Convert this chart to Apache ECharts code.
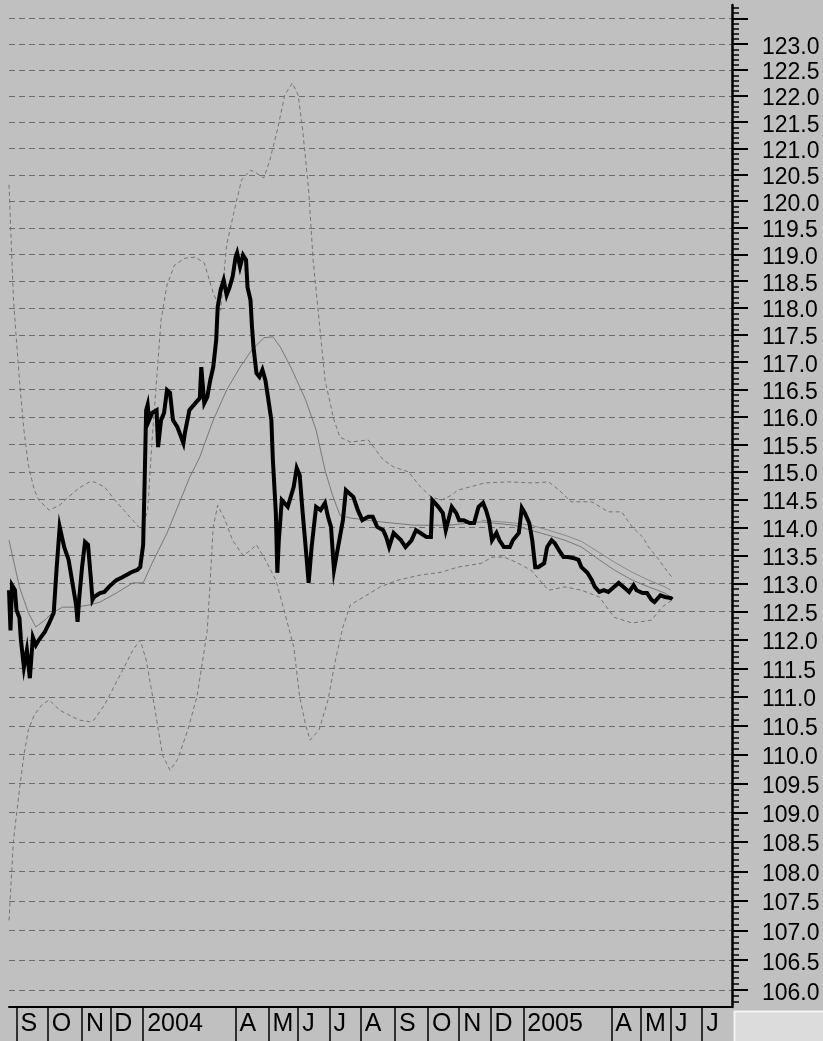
<!DOCTYPE html>
<html><head><meta charset="utf-8">
<script src="https://cdn.jsdelivr.net/npm/echarts@6/dist/echarts.min.js"></script>
<style>html,body{margin:0;padding:0;background:#c0c0c0;}#c{width:823px;height:1041px;}</style>
</head><body><div id="c"></div>
<script>
// ---- data (trading-day index, value) ----
const monthStarts = [5, 26, 49, 68, 90, 152, 174, 194, 215, 236, 259, 281, 302, 323, 345, 404, 424, 444, 465];
const monthLabels = ['S','O','N','D','2004','A','M','J','J','A','S','O','N','D','2005','A','M','J','J'];
const yLabels = [106.0,106.5,107.0,107.5,108.0,108.5,109.0,109.5,110.0,110.5,111.0,111.5,112.0,112.5,113.0,113.5,114.0,114.5,115.0,115.5,116.0,116.5,117.0,117.5,118.0,118.5,119.0,119.5,120.0,120.5,121.0,121.5,122.0,122.5,123.0];
const yMajorTicks = yLabels.concat([123.5]);

const price = [[0,112.88],[1,112.17],[2,112.97],[4,112.88],[5,112.53],[7,112.39],[8,112.00],[10,111.52],[12,111.82],[14,111.33],[16,112.05],[18,111.91],[20,112.00],[24,112.14],[27,112.30],[30,112.48],[32,113.29],[34,114.01],[36,113.77],[37,113.65],[40,113.42],[43,112.94],[45,112.62],[46,112.32],[47,112.71],[49,113.29],[51,113.74],[53,113.69],[55,113.06],[56,112.71],[57,112.76],[61,112.83],[64,112.85],[67,112.94],[72,113.06],[76,113.11],[80,113.17],[82,113.20],[86,113.24],[88,113.29],[90,113.69],[91,114.85],[92,116.12],[93,116.22],[94,115.94],[96,116.07],[99,116.12],[100,115.45],[102,115.94],[104,116.07],[106,116.49],[108,116.44],[110,115.94],[113,115.81],[117,115.52],[118,115.71],[121,116.12],[125,116.25],[128,116.34],[129,116.91],[131,116.25],[133,116.36],[135,116.67],[137,116.91],[139,117.41],[140,118.02],[142,118.34],[144,118.52],[146,118.24],[148,118.39],[150,118.58],[152,118.95],[153,119.03],[155,118.77],[157,118.99],[159,118.90],[160,118.39],[162,118.15],[163,117.65],[164,117.28],[166,116.80],[168,116.73],[170,116.86],[172,116.67],[174,116.31],[176,115.94],[177,115.22],[179,114.26],[180,113.19],[181,113.77],[183,114.49],[187,114.37],[191,114.73],[193,115.07],[195,114.94],[197,114.26],[199,113.65],[201,113.01],[203,113.65],[206,114.37],[209,114.31],[212,114.44],[214,114.19],[216,114.01],[218,113.24],[220,113.54],[224,114.13],[226,114.67],[228,114.62],[231,114.55],[234,114.31],[237,114.13],[241,114.19],[244,114.19],[247,114.01],[251,113.95],[253,113.83],[255,113.65],[258,113.90],[263,113.77],[266,113.65],[270,113.77],[273,113.95],[276,113.90],[280,113.83],[283,113.83],[284,114.49],[288,114.37],[291,114.26],[293,113.95],[297,114.37],[300,114.26],[302,114.13],[305,114.13],[309,114.08],[312,114.08],[315,114.37],[318,114.44],[320,114.31],[322,114.13],[324,113.77],[327,113.90],[329,113.77],[332,113.65],[336,113.65],[338,113.77],[342,113.90],[344,114.35],[346,114.26],[349,114.08],[351,113.77],[353,113.29],[355,113.29],[359,113.36],[361,113.65],[364,113.77],[366,113.72],[369,113.59],[372,113.47],[375,113.47],[379,113.45],[382,113.42],[384,113.29],[388,113.19],[391,113.06],[393,112.94],[396,112.85],[399,112.88],[402,112.85],[406,112.94],[409,113.01],[413,112.92],[416,112.85],[419,112.97],[421,112.88],[425,112.83],[428,112.83],[431,112.71],[433,112.67],[437,112.79],[440,112.76],[444,112.74],[445,112.72]];

const movingAvg = [[0,113.77],[7,112.94],[13,112.48],[18,112.23],[24,112.35],[29,112.48],[36,112.58],[45,112.58],[54,112.62],[61,112.67],[72,112.83],[83,113.01],[90,113.01],[96,113.36],[106,113.90],[115,114.49],[121,114.89],[128,115.27],[137,115.94],[146,116.49],[155,116.91],[163,117.23],[171,117.45],[177,117.47],[182,117.28],[189,116.91],[193,116.67],[199,116.31],[206,115.76],[212,115.03],[217,114.58],[222,114.22],[229,114.17],[249,114.10],[272,114.04],[295,114.04],[317,114.10],[339,114.04],[350,113.95],[362,113.86],[373,113.77],[384,113.65],[396,113.42],[406,113.24],[418,113.06],[429,112.94],[440,112.83],[444,112.76]];

const movingAvg2 = [[317,114.13],[339,114.08],[350,114.04],[362,113.95],[373,113.86],[384,113.75],[396,113.55],[406,113.38],[418,113.20],[429,113.06],[440,112.94],[444,112.88]];

const upperBand = [[0,120.31],[3,118.15],[7,116.67],[10,115.76],[13,115.12],[17,114.67],[20,114.49],[27,114.31],[34,114.40],[40,114.55],[47,114.71],[54,114.82],[57,114.82],[64,114.73],[71,114.49],[78,114.28],[84,114.10],[89,113.95],[93,114.31],[96,115.58],[99,116.67],[102,117.78],[106,118.43],[111,118.80],[118,118.93],[125,118.95],[131,118.84],[137,118.28],[142,117.96],[146,119.18],[152,119.93],[156,120.40],[162,120.59],[166,120.53],[171,120.44],[175,120.78],[180,121.35],[185,122.02],[190,122.25],[194,122.02],[197,121.35],[201,120.21],[204,118.90],[208,117.78],[212,116.67],[218,115.94],[222,115.63],[229,115.54],[241,115.58],[251,115.22],[258,115.09],[268,115.00],[276,114.73],[283,114.55],[290,114.49],[297,114.58],[301,114.67],[319,114.80],[335,114.82],[352,114.80],[362,114.82],[369,114.67],[377,114.46],[391,114.46],[402,114.28],[411,114.28],[418,114.01],[425,113.83],[429,113.65],[436,113.42],[440,113.27],[445,113.10]];

const lowerBand = [[0,107.17],[3,108.53],[7,109.39],[10,109.99],[13,110.43],[17,110.69],[22,110.86],[27,110.95],[34,110.77],[40,110.69],[47,110.60],[54,110.57],[57,110.60],[64,110.86],[71,111.21],[78,111.56],[83,111.82],[88,112.00],[92,111.65],[98,110.77],[103,109.99],[108,109.73],[113,109.91],[120,110.43],[126,111.00],[130,111.65],[133,112.17],[135,113.06],[137,114.01],[140,114.40],[145,114.13],[150,113.77],[157,113.50],[162,113.59],[166,113.69],[172,113.42],[179,113.06],[184,112.58],[191,111.88],[195,111.00],[199,110.51],[202,110.25],[208,110.43],[214,110.95],[219,111.65],[224,112.23],[229,112.62],[238,112.76],[249,112.94],[261,113.06],[276,113.15],[290,113.20],[301,113.29],[317,113.36],[324,113.47],[332,113.47],[340,113.38],[350,113.24],[362,112.88],[373,112.94],[384,112.88],[396,112.76],[406,112.40],[418,112.30],[431,112.35],[438,112.58],[445,112.71]];

// ---- chart ----
const yMin = 105.72, yMax = 123.76;
const yMinorTicks = [];
for (let k = Math.round(yMin * 10) + 1; k <= Math.round(yMax * 10); k++) { if (k % 5 !== 0) yMinorTicks.push(k / 10); }

const chart = echarts.init(document.getElementById('c'), null, {renderer: 'canvas'});
const lineBase = {type: 'line', showSymbol: false, symbol: 'none', animation: false, xAxisIndex: 0, yAxisIndex: 0};
const gridBox = {left: 9, right: 91, top: 5, bottom: 34, containLabel: false};
const font = 'Liberation Sans, Arial, sans-serif';
chart.setOption({
  backgroundColor: '#c0c0c0',
  animation: false,
  grid: [Object.assign({}, gridBox), Object.assign({}, gridBox)],
  xAxis: [{
    gridIndex: 0, type: 'value', min: 0, max: 485,
    axisLine: {show: true, onZero: false, lineStyle: {color: '#000', width: 2}},
    axisTick: {show: true, customValues: monthStarts, length: 34, inside: false, lineStyle: {color: '#000', width: 1.5}},
    axisLabel: {customValues: monthStarts, formatter: v => monthLabels[monthStarts.indexOf(v)] || '',
      align: 'left', verticalAlign: 'top', margin: 5, padding: [0, 0, 0, 4], fontSize: 25, color: '#000', fontFamily: font},
    splitLine: {show: false}
  }, {
    gridIndex: 1, type: 'value', min: 0, max: 485, show: false
  }],
  yAxis: [
    {gridIndex: 0, type: 'log', logBase: 10, position: 'right', min: yMin, max: yMax,
      axisLine: {show: true, onZero: false, lineStyle: {color: '#000', width: 2.5}},
      axisTick: {show: true, customValues: yMajorTicks, length: 16, inside: false, lineStyle: {color: '#000', width: 2}},
      axisLabel: {customValues: yLabels, formatter: v => '{t|' + v.toFixed(1) + '}', margin: 30, color: '#000',
        verticalAlign: 'middle',
        rich: {t: {fontSize: 23, color: '#000', fontFamily: font, padding: [6, 0, 0, 0]}}},
      splitLine: {show: true, lineStyle: {color: '#6c6c6c', width: 1, type: [6, 4]}}
    },
    {gridIndex: 1, type: 'log', logBase: 10, position: 'right', min: yMin, max: yMax,
      axisLine: {show: false, onZero: false},
      axisTick: {show: true, customValues: yMinorTicks, length: 7, inside: false, lineStyle: {color: '#000', width: 1.5}},
      axisLabel: {show: false}, splitLine: {show: false}
    }
  ],
  series: [
    Object.assign({}, lineBase, {name: 'upper', data: upperBand, z: 2, lineStyle: {color: '#747474', width: 1, type: [4, 3]}}),
    Object.assign({}, lineBase, {name: 'lower', data: lowerBand, z: 2, lineStyle: {color: '#747474', width: 1, type: [4, 3]}}),
    Object.assign({}, lineBase, {name: 'ma2', data: movingAvg2, z: 3, lineStyle: {color: '#8a8a8a', width: 1}}),
    Object.assign({}, lineBase, {name: 'ma', data: movingAvg, z: 3, lineStyle: {color: '#787878', width: 1}}),
    Object.assign({}, lineBase, {name: 'price', data: price, z: 5, lineStyle: {color: '#000', width: 4, join: 'miter'}})
  ],
  graphic: [
    {type: 'rect', left: 734, top: 1011, shape: {width: 89, height: 30}, style: {fill: '#dcdcdc'}, z: 10},
    {type: 'line', shape: {x1: 734, y1: 1011.5, x2: 823, y2: 1011.5}, style: {stroke: '#f4f4f4', lineWidth: 2}, z: 11},
    {type: 'line', shape: {x1: 734.5, y1: 1011, x2: 734.5, y2: 1041}, style: {stroke: '#f4f4f4', lineWidth: 2}, z: 11}
  ]
});
</script></body></html>
